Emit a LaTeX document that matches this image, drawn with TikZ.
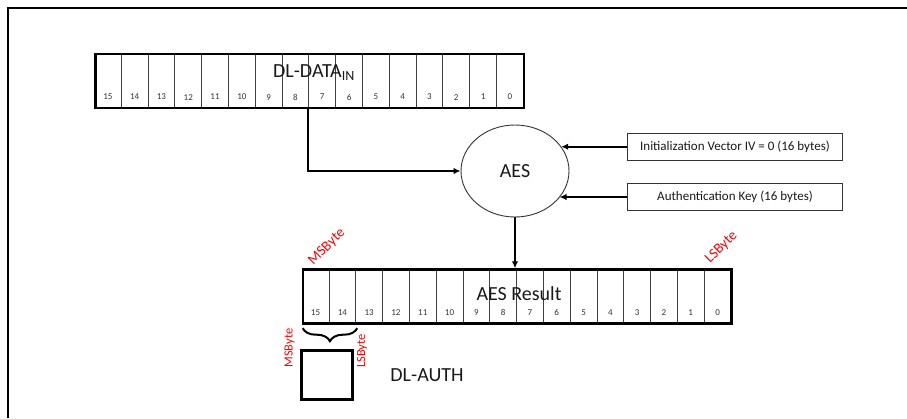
\documentclass[tikz,border=0pt]{standalone}
\usepackage{fontspec}
\setmainfont{Carlito}
\usetikzlibrary{arrows.meta,shapes.geometric,decorations.pathreplacing}
\tikzset{
  cell/.style={draw=black!75, line width=0.9pt, minimum width=26.8pt, minimum height=54pt, inner sep=0pt, anchor=north west},
  regframe/.style={draw=black, line width=2.6pt, minimum width=428.7pt, minimum height=54pt, inner sep=0pt, anchor=north west},
  num/.style={font=\fontsize{9}{10}\selectfont, text=black!80, inner sep=0pt},
  title/.style={font=\fontsize{20}{24}\selectfont, text=black!90, inner sep=0pt},
  infobox/.style={draw=black!80, line width=1pt, minimum width=214.6pt, minimum height=26.7pt, inner sep=0pt, font=\fontsize{13}{15}\selectfont, text=black!90},
  redlbl/.style={font=\fontsize{12.5}{15}\selectfont, text=red, inner sep=0pt},
  bigred/.style={font=\fontsize{14.5}{17}\selectfont, text=red, inner sep=0pt, rotate=45},
  arr/.style={line width=1.9pt, -{Latex[length=7pt,width=6.5pt]}},
}
\begin{document}
\begin{tikzpicture}[x=1pt,y=-1pt]
\useasboundingbox (0,0) rectangle (907,418);
% frame
\draw[line width=1.8pt] (8,418) -- (8,8) -- (907,8);
% DL-DATA_IN register
\foreach \i in {0,...,15} {
  \pgfmathtruncatemacro\n{15-\i}
  \node[cell] (dc\n) at (94+\i*26.8,52.7) {};
  \node[num] at ([yshift=10.5pt]dc\n.south) {\n};
}
\node[regframe] (din) at (94,52.7) {};
\node[title, anchor=base] (dintitle) at (314,77.3) {DL-DATA\textsubscript{\fontsize{14}{16}\selectfont IN}};
% AES Result register
\foreach \i in {0,...,15} {
  \pgfmathtruncatemacro\n{15-\i}
  \node[cell] (rc\n) at (301.7+\i*26.8,268.3) {};
  \node[num] at ([yshift=10.5pt]rc\n.south) {\n};
}
\node[regframe] (res) at (301.7,268.3) {};
\node[title, anchor=base] (restitle) at (519,300) {AES Result};
% AES ellipse
\node[ellipse, draw=black!80, line width=0.9pt, minimum width=108pt, minimum height=92pt, inner sep=0pt, title] (aes) at (515,171) {AES};
% input boxes
\node[infobox] (iv) at (735,146.7) {Initialization Vector IV = 0 (16 bytes)};
\node[infobox] (key) at (735,197) {Authentication Key (16 bytes)};
% connectors
\draw[arr] (dc7.south west) |- (aes.west);
\draw[arr] (iv.west) -- (iv.west -| aes.28);
\draw[arr] (key.west) -- (key.west -| aes.-31);
\draw[arr] (aes.south) -- (aes.south |- res.north);
% byte labels
\node[bigred] (msb) at (327,247) {MSByte};
\node[bigred] (lsb) at (721.5,247.5) {LSByte};
% brace and DL-AUTH
\draw[line width=2pt, decorate, decoration={brace, mirror, amplitude=13pt, aspect=0.5}] ([xshift=1pt,yshift=-5pt]rc15.south west) -- ([xshift=1pt,yshift=-5pt]rc14.south east);
\node[draw=black, line width=2.6pt, minimum width=51pt, minimum height=49pt, inner sep=0pt] (auth) at (327.2,374.7) {};
\node[redlbl, rotate=90] (amsb) at (289.5,348) {MSByte};
\node[redlbl, rotate=90] (alsb) at (362,351) {LSByte};
\node[title] (authlbl) at (427,375) {DL-AUTH};
\end{tikzpicture}
\end{document}
